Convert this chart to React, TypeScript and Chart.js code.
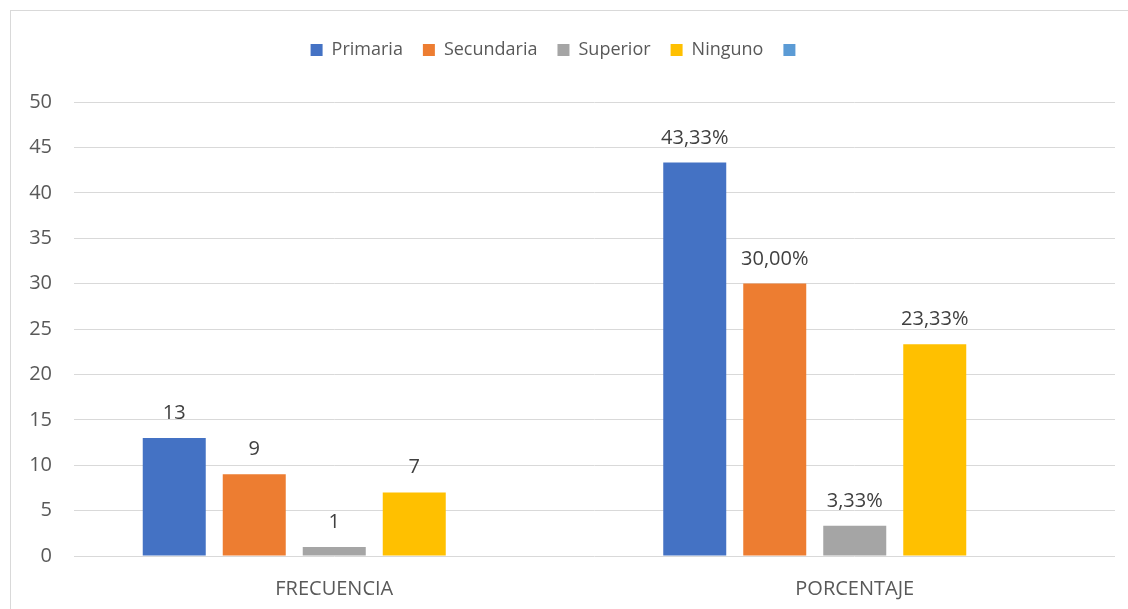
import React, { useEffect, useRef } from 'react';
import { Chart, registerables } from 'chart.js';

Chart.register(...registerables);

const categories = ['FRECUENCIA', 'PORCENTAJE'];
const seriesNames = ['Primaria', 'Secundaria', 'Superior', 'Ninguno', ''];
const primaria = [13, 43.33];
const secundaria = [9, 30];
const superior = [1, 3.33];
const ninguno = [7, 23.33];
const vacio: (number | null)[] = [null, null];
const seriesColors = ['#4472C4', '#ED7D31', '#A5A5A5', '#FFC000', '#5B9BD5'];
const yMin = 0;
const yMax = 50;
const yStep = 5;
const labelKinds = ['int', 'pct'];

const FONT = "'Open Sans', sans-serif";

function formatValue(v: number, catIndex: number): string {
  if (labelKinds[catIndex] === 'pct') return v.toFixed(2).replace('.', ',') + '%';
  return String(v);
}

const dataLabelPlugin = {
  id: 'dataLabels',
  afterDatasetsDraw(chart: any) {
    const ctx = chart.ctx;
    ctx.save();
    ctx.font = `20px ${FONT}`;
    ctx.fillStyle = '#404040';
    ctx.textAlign = 'center';
    ctx.textBaseline = 'alphabetic';
    chart.data.datasets.forEach((ds: any, di: number) => {
      const meta = chart.getDatasetMeta(di);
      meta.data.forEach((bar: any, i: number) => {
        const v = ds.data[i];
        if (v === null || v === undefined) return;
        ctx.fillText(formatValue(v, i), bar.x, bar.y - 19);
      });
    });
    ctx.restore();
  },
};

const legendHeightPlugin = {
  id: 'legendHeight',
  beforeLayout(chart: any) {
    const lg: any = chart.legend;
    if (lg && !lg.__patched) {
      const orig = lg.fit.bind(lg);
      lg.fit = function () {
        orig();
        this.height = 81;
      };
      lg.__patched = true;
    }
  },
};

export default function App() {
  const ref = useRef<HTMLCanvasElement | null>(null);

  useEffect(() => {
    if (!ref.current) return;
    const seriesData = [primaria, secundaria, superior, ninguno, vacio];
    const chart = new Chart(ref.current, {
      type: 'bar',
      data: {
        labels: categories,
        datasets: seriesNames.map((name, i) => ({
          label: name,
          data: seriesData[i] as any,
          backgroundColor: seriesColors[i],
          borderWidth: 0,
          categoryPercentage: 0.7685,
          barPercentage: 0.7875,
        })),
      },
      options: {
        responsive: false,
        animation: false,
        devicePixelRatio: 1,
        layout: { padding: { top: 21, right: 13, left: 0, bottom: 0 } },
        plugins: {
          legend: {
            display: true,
            position: 'top',
            labels: {
              boxWidth: 12,
              boxHeight: 12,
              padding: 20,
              color: '#595959',
              font: { family: FONT, size: 18 },
            },
          },
          tooltip: { enabled: false },
          title: { display: false },
        },
        scales: {
          x: {
            grid: { display: false, drawTicks: false },
            border: { display: false },
            ticks: {
              color: '#595959',
              font: { family: FONT, size: 20 },
              padding: 21,
            },
            afterFit: (s: any) => {
              s.height = 53;
            },
          },
          y: {
            min: yMin,
            max: yMax,
            ticks: {
              stepSize: yStep,
              color: '#595959',
              font: { family: FONT, size: 20 },
              padding: 22,
            },
            grid: { color: '#D9D9D9', lineWidth: 1, drawTicks: false },
            border: { display: false },
            afterFit: (s: any) => {
              s.width = 74;
            },
          },
        },
      },
      plugins: [dataLabelPlugin, legendHeightPlugin],
    });
    return () => chart.destroy();
  }, []);

  return (
    <div style={{ position: 'fixed', left: 0, top: 0, width: 1128, height: 609, background: '#fff', overflow: 'hidden' }}>
      <div
        style={{
          position: 'absolute',
          left: 10,
          top: 10,
          width: 1200,
          height: 700,
          borderLeft: '1px solid #D9D9D9',
          borderTop: '1px solid #D9D9D9',
        }}
      />
      <canvas ref={ref} width={1128} height={609} style={{ position: 'absolute', left: 0, top: 0, width: 1128, height: 609 }} />
    </div>
  );
}
